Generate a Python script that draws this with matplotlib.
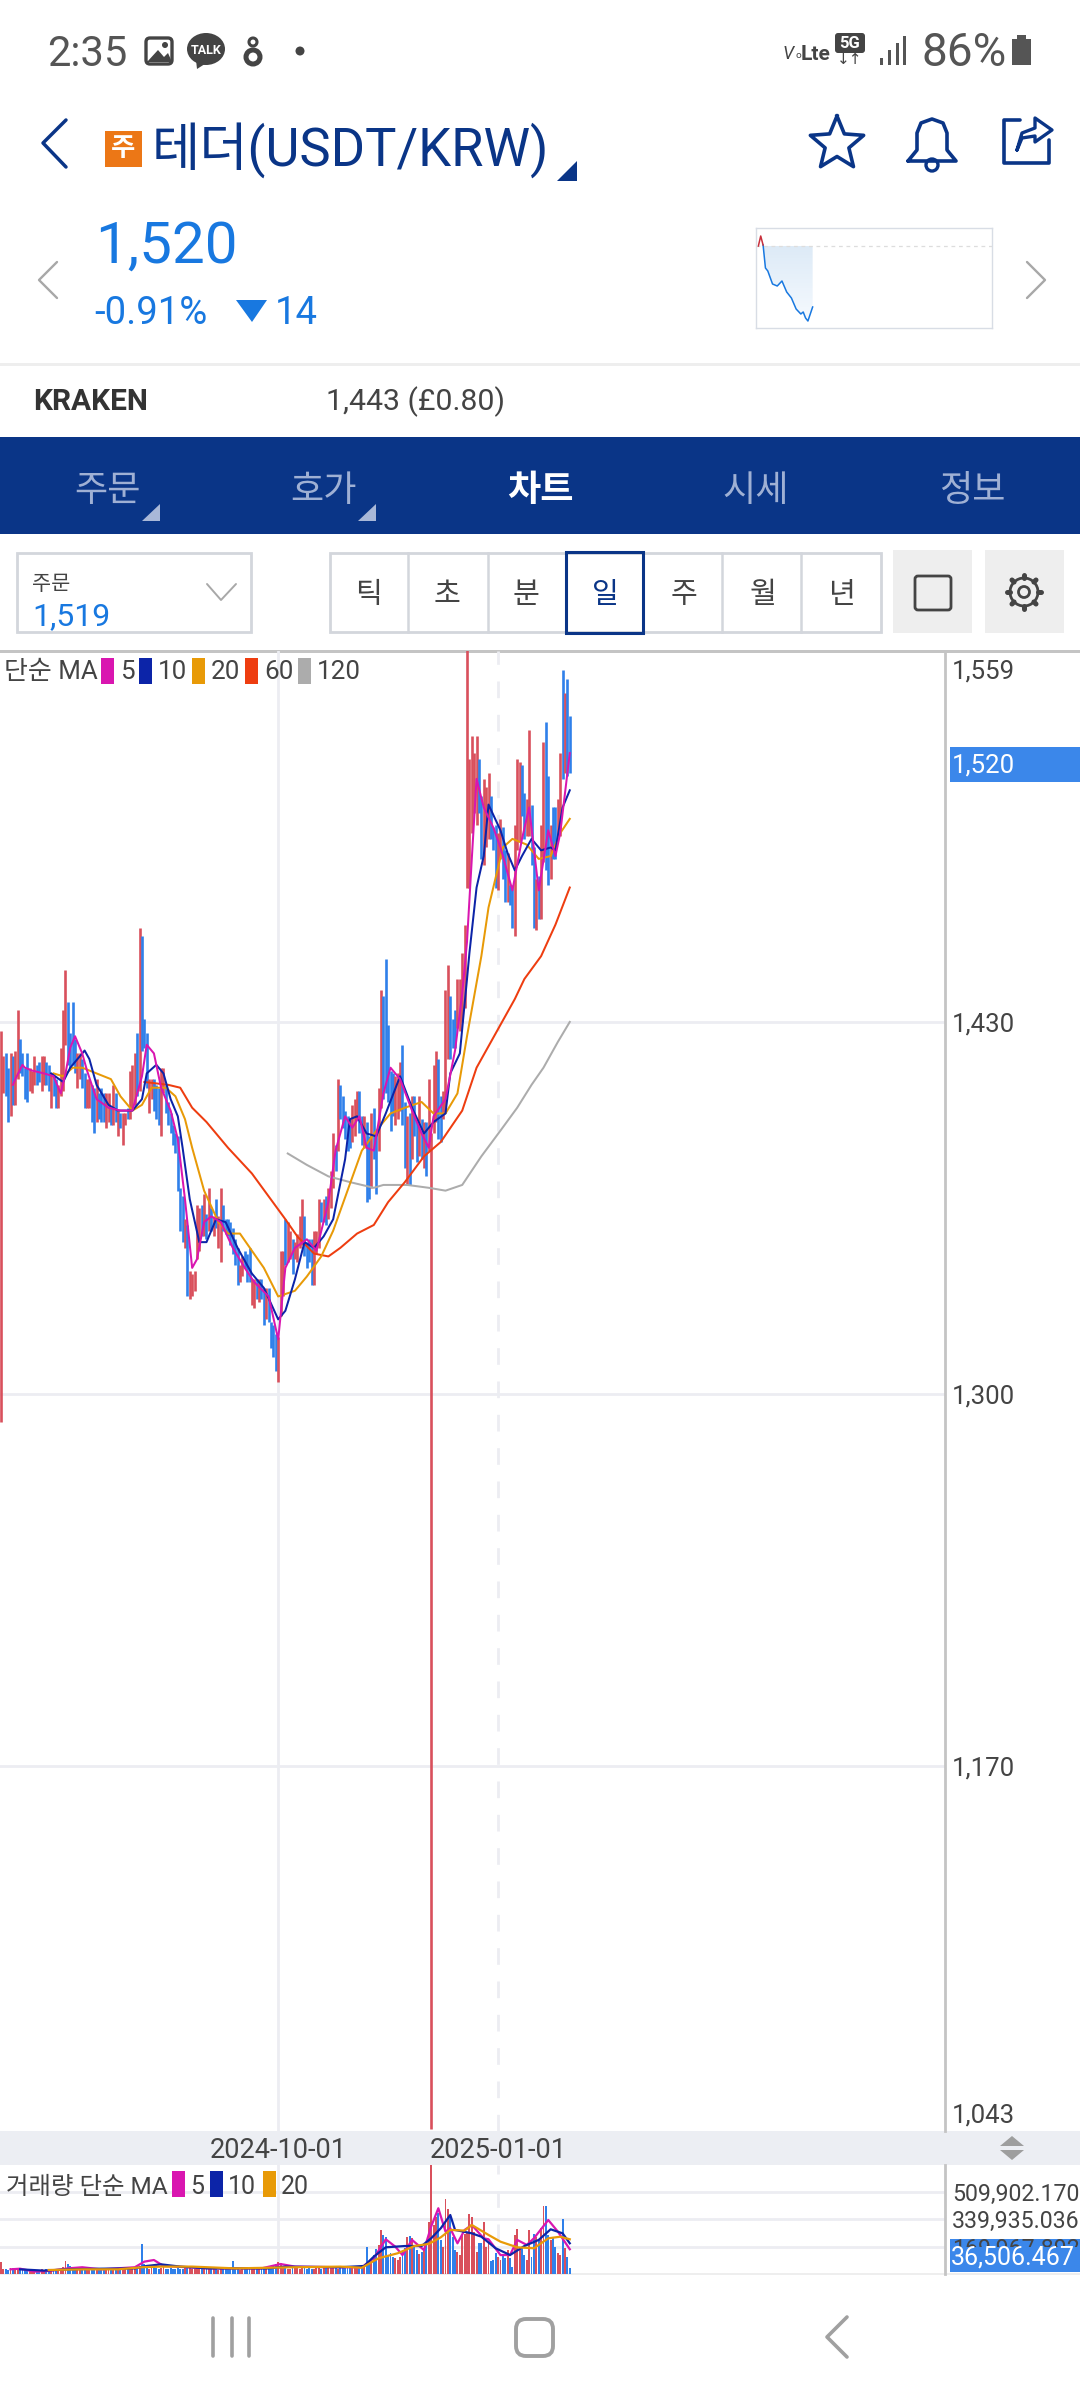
# -*- coding: utf-8 -*-
import numpy as np
import matplotlib
matplotlib.use('Agg')
import matplotlib.pyplot as plt
from matplotlib.patches import Rectangle, Polygon, Circle, Ellipse, FancyBboxPatch

plt.rcParams['font.family'] = ['Roboto', 'Noto Sans CJK KR', 'DejaVu Sans']

# daily bars
highs = [1427, 1418, 1419, 1414, 1419, 1418, 1420, 1434, 1424, 1419, 1414, 1419, 1414, 1413, 1418, 1415, 1416, 1418, 1418, 1416,
         1415, 1412, 1411, 1410, 1408, 1421, 1434, 1448, 1437, 1426, 1437, 1424, 1419, 1419, 1417, 1412, 1410, 1410, 1408, 1407,
         1410, 1405, 1407, 1405, 1405, 1405, 1400, 1408, 1405, 1399, 1398, 1398, 1398, 1400, 1413, 1415, 1419, 1426, 1463, 1460,
         1431, 1426, 1410, 1410, 1410, 1408, 1407, 1414, 1414, 1408, 1402, 1398, 1394, 1391,
         1390, 1372, 1369, 1361, 1359, 1343, 1342, 1343, 1366, 1365, 1366, 1370, 1363, 1372, 1365, 1362, 1368, 1362, 1372, 1366,
         1361, 1361, 1360, 1358, 1354, 1351, 1345, 1348, 1350, 1349, 1351, 1340, 1340, 1340, 1340, 1340, 1337, 1337, 1337, 1325,
         1324, 1321, 1320, 1350, 1350, 1361, 1360, 1357, 1354, 1353, 1356, 1362, 1368, 1362, 1353, 1354, 1354, 1357, 1357, 1368,
         1367, 1368, 1369, 1372, 1378, 1391, 1387, 1410, 1408, 1404, 1399, 1397,
         1396, 1401, 1403, 1406, 1406, 1397, 1397, 1395, 1390, 1398, 1400, 1392, 1407, 1441, 1439, 1452, 1429, 1413, 1412, 1411,
         1412, 1416, 1422, 1402, 1397, 1398, 1404, 1404, 1396, 1404, 1396, 1395, 1395, 1410, 1391, 1415, 1420, 1417, 1404, 1406,
         1441, 1450, 1439, 1431, 1434, 1445, 1445, 1454, 1464, 1563,
         1522, 1530, 1524, 1530, 1522, 1509, 1515, 1512, 1517, 1509, 1498, 1499, 1496, 1501, 1498, 1490, 1489, 1478, 1478, 1499,
         1522, 1521, 1520, 1510, 1508, 1532, 1506, 1491, 1480, 1481, 1499, 1528, 1535, 1516, 1499, 1505, 1505, 1508, 1524, 1553,
         1545, 1550, 1537]
lows = [1290, 1405, 1404, 1395, 1397, 1401, 1401, 1410, 1412, 1411, 1403, 1402, 1406, 1405, 1408, 1408, 1409, 1406, 1408, 1408,
        1406, 1400, 1404, 1400, 1400, 1404, 1406, 1422, 1415, 1414, 1415, 1412, 1407, 1410, 1407, 1400, 1400, 1400, 1395, 1391,
        1395, 1396, 1395, 1395, 1393, 1395, 1394, 1394, 1395, 1390, 1393, 1387, 1394, 1396, 1396, 1400, 1401, 1404, 1406, 1420,
        1421, 1407, 1398, 1403, 1399, 1396, 1394, 1390, 1405, 1398, 1394, 1391, 1387, 1384,
        1371, 1357, 1353, 1351, 1334, 1333, 1334, 1336, 1347, 1350, 1355, 1355, 1354, 1357, 1357, 1355, 1358, 1351, 1346, 1357,
        1356, 1355, 1352, 1349, 1345, 1338, 1339, 1341, 1344, 1339, 1339, 1331, 1330, 1333, 1332, 1333, 1324, 1326, 1325, 1316,
        1313, 1308, 1304, 1327, 1334, 1345, 1346, 1347, 1342, 1347, 1346, 1351, 1352, 1348, 1344, 1346, 1338, 1338, 1349, 1351,
        1360, 1360, 1359, 1361, 1365, 1372, 1378, 1385, 1396, 1393, 1389, 1385,
        1386, 1388, 1390, 1396, 1391, 1387, 1386, 1367, 1368, 1372, 1382, 1370, 1385, 1400, 1403, 1405, 1402, 1392, 1397, 1394,
        1396, 1399, 1394, 1379, 1373, 1373, 1382, 1390, 1381, 1383, 1382, 1379, 1376, 1385, 1043, 1391, 1395, 1389, 1388, 1396,
        1398, 1417, 1417, 1421, 1421, 1428, 1427, 1430, 1435, 1477,
        1477, 1496, 1503, 1499, 1503, 1487, 1485, 1491, 1494, 1494, 1490, 1477, 1476, 1487, 1480, 1472, 1472, 1471, 1463, 1460,
        1490, 1493, 1502, 1494, 1495, 1495, 1485, 1463, 1462, 1466, 1466, 1486, 1483, 1478, 1480, 1487, 1487, 1495, 1495, 1515,
        1517, 1516, 1517]
# 1 = red bar, 0 = blue bar
ups = [1, 1, 0, 0, 1, 0, 1, 1, 0, 0, 0, 0, 1, 1, 1, 0, 0, 1, 1, 0,
       0, 1, 0, 0, 1, 1, 1, 1, 0, 0, 0, 0, 1, 1, 0, 0, 1, 1, 0, 0,
       1, 0, 0, 0, 1, 1, 0, 1, 0, 1, 0, 1, 1, 0, 1, 1, 1, 0, 1, 0,
       0, 0, 1, 1, 0, 0, 0, 1, 1, 0, 0, 0, 0, 0,
       0, 0, 0, 1, 0, 1, 1, 1, 1, 1, 0, 1, 0, 1, 0, 1, 0, 1, 1, 0,
       0, 0, 0, 0, 0, 0, 1, 1, 0, 0, 0, 1, 1, 0, 1, 0, 0, 1, 0, 0,
       0, 0, 1, 1, 1, 0, 1, 1, 0, 1, 1, 1, 1, 0, 0, 0, 0, 1, 1, 1,
       0, 1, 0, 1, 1, 1, 0, 1, 0, 0, 0, 0,
       0, 1, 1, 1, 0, 0, 1, 0, 0, 1, 0, 0, 1, 1, 0, 0, 0, 0, 0, 1,
       1, 1, 0, 0, 1, 0, 1, 0, 0, 1, 0, 1, 0, 1, 1, 1, 1, 0, 0, 1,
       1, 1, 0, 0, 0, 1, 1, 1, 1, 1,
       1, 1, 1, 1, 0, 0, 1, 1, 1, 0, 0, 0, 1, 1, 0, 0, 1, 0, 0, 1,
       1, 1, 0, 0, 1, 1, 0, 0, 1, 0, 1, 1, 0, 0, 1, 0, 0, 1, 1, 0,
       1, 0, 0]

# moving averages, sampled along each line: bar number and price
ma5_x = [5, 6, 9, 10, 13, 18, 22, 25, 27, 29, 31, 34, 36, 40, 45, 50, 55, 59, 61, 64, 67, 71, 74, 77, 80, 82, 85, 88, 92, 97,
         102, 106, 112, 116, 119, 123, 128, 132, 137, 140, 144, 147, 150, 153, 156, 160, 163, 167, 172, 176, 179, 181, 186, 190, 193,
         195, 197, 199, 202, 206, 209, 214, 218, 221, 225, 229, 232, 234, 238]
ma5_y = [1408, 1410, 1415, 1414, 1413, 1412, 1411, 1405, 1412, 1421, 1425, 1419, 1413, 1403, 1400, 1399, 1399, 1411, 1422, 1419,
         1407, 1399, 1389, 1368, 1344, 1347, 1360, 1362, 1360, 1351, 1344, 1339, 1334, 1319, 1344, 1351, 1354, 1350, 1367, 1385,
         1397, 1393, 1397, 1386, 1385, 1405, 1414, 1410, 1399, 1391, 1386, 1397, 1403, 1420, 1440, 1458, 1487, 1515, 1505, 1498,
         1491, 1476, 1494, 1505, 1476, 1497, 1488, 1496, 1524]
ma10_x = [21, 26, 29, 33, 35, 37, 40, 45, 49, 55, 59, 61, 65, 68, 71, 74, 76, 79, 83, 86, 90, 94, 99, 105, 110, 116, 119, 123,
          127, 131, 135, 139, 144, 146, 149, 153, 157, 161, 167, 172, 177, 181, 186, 188, 192, 195, 196, 199, 202, 204, 209, 212,
          215, 218, 222, 226, 230, 232, 235, 238]
ma10_y = [1412, 1409, 1414, 1418, 1420, 1417, 1408, 1401, 1399, 1399, 1403, 1412, 1415, 1412, 1403, 1397, 1386, 1368, 1353, 1353,
          1361, 1360, 1351, 1342, 1337, 1326, 1329, 1340, 1353, 1351, 1355, 1361, 1382, 1396, 1397, 1391, 1390, 1398, 1411, 1400,
          1391, 1395, 1398, 1412, 1419, 1445, 1454, 1477, 1488, 1506, 1497, 1489, 1483, 1488, 1494, 1490, 1491, 1490, 1505, 1511]
ma20_x = [22, 26, 30, 34, 40, 46, 50, 55, 59, 63, 69, 73, 77, 80, 85, 91, 95, 100, 110, 116, 123, 128, 134, 139, 145, 151, 158,
          163, 169, 176, 181, 186, 191, 195, 201, 204, 206, 210, 214, 220, 225, 230, 234, 238]
ma20_y = [1412, 1411, 1414, 1414, 1412, 1410, 1404, 1399, 1401, 1407, 1407, 1404, 1396, 1386, 1371, 1360, 1356, 1356, 1344, 1334,
          1336, 1341, 1348, 1357, 1371, 1385, 1393, 1398, 1400, 1402, 1398, 1398, 1405, 1425, 1453, 1470, 1477, 1491, 1494, 1492,
          1487, 1488, 1496, 1501]
ma60_x = [60, 70, 75, 80, 86, 95, 105, 112, 119, 124, 131, 137, 142, 149, 156, 162, 169, 177, 184, 193, 199, 205, 215, 219, 226,
          232, 238]
ma60_y = [1409, 1408, 1407, 1400, 1395, 1386, 1377, 1369, 1361, 1355, 1349, 1348, 1351, 1356, 1359, 1367, 1374, 1383, 1388, 1399,
          1414, 1423, 1438, 1445, 1453, 1464, 1477]
ma120_x = [120, 128, 137, 146, 156, 160, 170, 179, 186, 193, 197, 201, 209, 216, 222, 227, 233, 238]
ma120_y = [1384, 1380, 1376, 1374, 1372, 1373, 1373, 1372, 1371, 1373, 1378, 1383, 1392, 1400, 1408, 1414, 1423, 1430]

# volume in thousands
volumes = [77, 30, 34, 22, 36, 40, 33, 28, 35, 24, 30, 26, 20, 28, 34, 22, 25, 30, 24, 28,
           26, 22, 30, 28, 24, 32, 45, 80, 62, 50, 40, 36, 30, 34, 28, 26, 36, 30, 24, 28,
           34, 30, 26, 32, 36, 28, 24, 34, 30, 28, 32, 36, 30, 28, 40, 44, 36, 46, 48, 187,
           60, 40, 34, 38, 44, 36, 30, 38, 42, 34, 28, 36, 30, 34, 40, 32, 28, 36, 42, 38,
           30, 34, 36, 28, 32, 38, 30, 28, 34, 36, 30, 26, 32, 38, 34, 28, 30, 80, 34, 30,
           26, 34, 38, 30, 28, 36, 32, 30, 34, 28, 36, 40, 34, 30, 48, 60, 77, 70, 52, 38,
           34, 30, 36, 44, 38, 32, 36, 40, 34, 38, 30, 34, 42, 36, 32, 38, 44, 40, 36, 42,
           38, 34, 40, 44, 42, 38,
           42, 35, 42, 35, 46, 42, 50, 166, 77, 87, 118, 154, 181, 274, 243, 232, 118, 129, 108, 98,
           87, 108, 139, 160, 228, 237, 222, 181, 149, 122, 139, 149, 191, 326, 700, 305, 357, 378, 212, 166,
           465, 403, 367, 232, 149, 139, 118, 243, 249, 257, 374, 353, 264, 139, 191, 195, 326, 170, 201, 83,
           87, 133, 108, 87, 118, 98, 149, 98, 46, 243, 280, 160, 160, 118, 87, 274, 108, 249, 232, 212,
           285, 423, 423, 243, 212, 222, 170, 129, 118, 340, 160, 104, 37]
vol5_x = [4, 8, 14, 20, 28, 34, 42, 56, 60, 64, 68, 78, 87, 98, 109, 117, 123, 142, 151, 156, 161, 165, 168, 172, 177, 180, 183,
          186, 188, 191, 194, 197, 202, 204, 209, 213, 216, 220, 223, 229, 233, 238]
vol5_y = [29, 33, 15, 19, 35, 42, 29, 42, 77, 87, 50, 42, 35, 35, 35, 62, 46, 42, 42, 98, 216, 170, 118, 212, 149, 295, 409,
          264, 284, 191, 274, 305, 222, 216, 118, 118, 212, 181, 222, 336, 264, 154]
vol10_x = [8, 18, 28, 42, 56, 61, 67, 75, 87, 112, 119, 142, 152, 156, 161, 169, 176, 180, 184, 188, 190, 197, 201, 207, 213,
           219, 225, 230, 235, 238]
vol10_y = [29, 21, 29, 33, 35, 50, 60, 46, 35, 35, 46, 42, 50, 108, 166, 174, 174, 222, 284, 367, 274, 253, 232, 160, 118,
           174, 212, 278, 253, 191]
vol20_x = [20, 35, 49, 59, 67, 80, 98, 112, 123, 142, 151, 158, 166, 173, 179, 184, 188, 194, 197, 204, 209, 216, 223, 229, 234, 238]
vol20_y = [25, 29, 29, 42, 46, 46, 35, 39, 42, 46, 39, 98, 129, 174, 187, 228, 274, 270, 305, 243, 201, 166, 160, 222, 232, 216]

grid_prices = [1430, 1300, 1170]
vol_ticks = [169967.892, 339935.036, 509902.170]
date_bars = [116, 208]
date_labels = ['2024-10-01', '2025-01-01']

# little sparkline at the top right, in percent of its box
mini_x = [1, 2, 3, 4, 5, 7, 9, 11, 13, 15, 17, 19, 20, 21, 22, 24]
mini_y = [82, 92, 83, 60, 57, 44, 42, 47, 36, 30, 19, 14, 16, 10, 7, 21]

RED = '#d9505c'
BLUE = '#2f80ea'
NAVY = '#0a3587'
GRID = '#ecedf2'
LINE = '#c4c4c4'
DARK = '#444444'
BRIGHT = '#1878e0'
MAG, MA10C, ORG, ORED, GREY = '#d916b0', '#0c24a8', '#e89a07', '#ee3d10', '#acacac'
W, H = 1080, 2400
BAR_W = 2.39


def px_axes(fig, z):
    ax = fig.add_axes([0, 0, 1, 1], zorder=z)
    ax.set_xlim(0, W)
    ax.set_ylim(H, 0)
    ax.axis('off')
    ax.patch.set_alpha(0)
    return ax


def box_axes(fig, x0, y0, x1, y1, z):
    return fig.add_axes([x0 / W, 1 - y1 / H, (x1 - x0) / W, (y1 - y0) / H], zorder=z)


def txt(ax, x, y, s, size, color=DARK, ha='left', **kw):
    ax.text(x, y, s, fontsize=size, color=color, ha=ha, va='center', **kw)


def rect(ax, x0, y0, x1, y1, **kw):
    ax.add_patch(Rectangle((x0, y0), x1 - x0, y1 - y0, **kw))


def stroke(ax, xs, ys, color, lw, **kw):
    ax.plot(xs, ys, color=color, lw=lw, solid_capstyle='round', solid_joinstyle='round', **kw)


fig = plt.figure(figsize=(10.8, 24), dpi=100, facecolor='white')
bg = px_axes(fig, 0)
ui = px_axes(fig, 10)

# status bar
txt(ui, 47, 54, '2:35', 30, '#555555')
ui.add_patch(FancyBboxPatch((146, 38), 26, 26, boxstyle='round,pad=0,rounding_size=4', fc='white', ec='#444444', lw=2.4))
ui.add_patch(Polygon([[147, 62], [158, 50], [164, 57], [168, 53], [172, 62]], fc='#444444'))
ui.add_patch(Circle((165, 45), 3, fc='#444444'))
ui.add_patch(Ellipse((206, 49), 38, 32, fc='#444444'))
ui.add_patch(Polygon([[196, 60], [197, 69], [208, 62]], fc='#444444'))
txt(ui, 206, 50, 'TALK', 9, 'white', ha='center', fontweight='bold')
ui.add_patch(Circle((253, 42), 4, fc='none', ec='#444444', lw=2.2))
ui.add_patch(Circle((253, 57), 7, fc='none', ec='#444444', lw=3.6))
ui.add_patch(Circle((300, 51), 4.5, fc='#444444'))
txt(ui, 783, 54, 'V', 13, '#444444', style='italic')
txt(ui, 795, 54, 'ₒ', 11, '#444444')
txt(ui, 801, 54, 'Lte', 15, '#444444', fontweight='bold')
ui.add_patch(FancyBboxPatch((835, 33), 30, 20, boxstyle='round,pad=0,rounding_size=3', fc='#444444', ec='none'))
txt(ui, 850, 43, '5G', 12, 'white', ha='center', fontweight='bold')
txt(ui, 850, 60, '↓↑', 11, '#444444', ha='center', family=['DejaVu Sans'])
for bx, by in zip([880, 888, 896, 903], [58, 50, 43, 36]):
    rect(ui, bx, by, bx + 3, 65, fc='#555555')
txt(ui, 921, 53, '86%', 33, '#555555')
rect(ui, 1012, 39, 1031, 65, fc='#555555')
rect(ui, 1017, 35, 1026, 39, fc='#555555')

# header
stroke(ui, [66, 43, 66], [120, 143, 167], NAVY, 2.5)
rect(ui, 105, 131, 142, 167, fc='#ec7716')
txt(ui, 123.5, 149, '주', 19, 'white', ha='center', fontweight='bold')
txt(ui, 152, 150, '테더(USDT/KRW)', 37.8, NAVY)
ui.add_patch(Polygon([[577, 161], [577, 181], [557, 181]], fc=NAVY))
star_a = np.pi / 2 + np.arange(11) * np.pi / 5
star_r = np.where(np.arange(11) % 2 == 0, 28, 12.5)
ui.plot(837 + star_r * np.cos(star_a), 144 - star_r * np.sin(star_a), color=NAVY, lw=2.6, solid_joinstyle='round')
stroke(ui, [908, 917, 917, 921, 932, 943, 947, 947, 956, 908], [161, 150, 133, 123, 119, 123, 133, 150, 161, 161], NAVY, 2.6)
ui.add_patch(Circle((932, 165), 6, fc='none', ec=NAVY, lw=2.4))
stroke(ui, [1020, 1004, 1004, 1049, 1049], [120, 120, 163, 163, 140], NAVY, 2.6)
stroke(ui, [1017, 1022, 1035, 1035, 1052, 1035, 1035, 1022, 1017], [150, 133, 128, 118, 130, 142, 136, 138, 150], NAVY, 2.4)

# price block
txt(ui, 95, 247, '1,520', 42, BRIGHT)
txt(ui, 94, 313, '-0.91%', 27.5, BRIGHT)
ui.add_patch(Polygon([[236, 300], [267, 300], [252, 322]], fc=BRIGHT))
txt(ui, 275, 313, '14', 27.5, BRIGHT)
stroke(ui, [57, 39, 57], [262, 280, 298], '#a8a8a8', 1.7)
stroke(ui, [1027, 1045, 1027], [262, 280, 298], '#a8a8a8', 1.7)

mini = box_axes(fig, 756, 228, 992, 328, 5)
mini.set_xticks([])
mini.set_yticks([])
for sp in mini.spines.values():
    sp.set_color('#d8dde5')
    sp.set_linewidth(1)
grad = mini.imshow(np.linspace(0.0, 0.13, 64).reshape(-1, 1), extent=[0, 24, 0, 82], origin='lower',
                   cmap='Blues', vmin=0, vmax=1, aspect='auto')
fill = Polygon(list(zip(mini_x[2:], mini_y[2:])) + [(24, 82), (3, 82)], transform=mini.transData, fc='none', ec='none')
mini.add_patch(fill)
grad.set_clip_path(fill)
mini.set_xlim(0, 100)
mini.set_ylim(0, 100)
mini.axhline(82, color='#dddddd', lw=0.9, ls=(0, (3, 3)))
mini.plot(mini_x[2:], mini_y[2:], color=BRIGHT, lw=1.1)
mini.plot(mini_x[:3], mini_y[:3], color='#c8303c', lw=1.1)

rect(bg, 0, 363, W, 366, fc='#eeeeee')
txt(ui, 33, 402, 'KRAKEN', 21.5, '#333333', fontweight='bold')
txt(ui, 326, 402, '1,443 (£0.80)', 21.8, '#444444')

# tabs
rect(bg, 0, 437, W, 534, fc=NAVY)
tab_labels = ['주문', '호가', '차트', '시세', '정보']
for tx, lab in zip([107, 323, 540, 756, 972], tab_labels):
    on = lab == '차트'
    txt(ui, tx, 491, lab, 26, 'white' if on else '#9fb0d4', ha='center', fontweight='bold' if on else 'normal')
for cx in [160, 376]:
    ui.add_patch(Polygon([[cx, 504], [cx, 521], [cx - 18, 521]], fc='#a9b8d8'))

# order box and interval buttons
rect(bg, 17, 553, 251, 632, fc='white', ec='#d3d6dc', lw=2)
txt(ui, 32, 584, '주문', 15, '#444444')
txt(ui, 32, 617, '1,519', 23, BRIGHT)
stroke(ui, [207, 221, 236], [584, 600, 584], '#a8a8a8', 1.4)
rect(bg, 330, 553, 881, 632, fc='white', ec='#d3d6dc', lw=2)
for dx in [408, 488, 722, 801]:
    bg.plot([dx, dx], [553, 632], color='#d3d6dc', lw=1.8)
rect(ui, 566, 552, 643, 633, fc='none', ec=NAVY, lw=2.2)
for tx, lab in zip([368, 447, 526, 605, 684, 763, 842], ['틱', '초', '분', '일', '주', '월', '년']):
    txt(ui, tx, 595, lab, 21, NAVY if lab == '일' else '#444444', ha='center')
rect(bg, 893, 550, 972, 633, fc='#eeeeee')
rect(bg, 985, 550, 1064, 633, fc='#eeeeee')
ui.add_patch(FancyBboxPatch((915, 576), 36, 34, boxstyle='round,pad=0,rounding_size=3', fc='none', ec='#444444', lw=2))
ui.add_patch(Circle((1024, 592), 14, fc='none', ec='#444444', lw=2))
ui.add_patch(Circle((1024, 592), 5.5, fc='none', ec='#444444', lw=2))
for a in np.arange(8) * np.pi / 4:
    stroke(ui, [1024 + 14 * np.cos(a), 1024 + 17 * np.cos(a)], [592 + 14 * np.sin(a), 592 + 17 * np.sin(a)], '#444444', 3.6)

# main price chart
rect(bg, 0, 650, W, 653, fc=LINE)
ax = box_axes(fig, 0, 651, 945, 2131, 3)
ax.patch.set_alpha(0)
ax.set_xlim(-0.4, 945 / BAR_W - 0.4)
ax.set_ylim(1042.2, 1559.7)
ax.set_yticks(grid_prices)
ax.yaxis.tick_right()
ax.set_yticklabels(['1,430', '1,300', '1,170'], fontsize=18.5, color=DARK)
ax.tick_params(axis='y', length=0, pad=5)
# top and bottom labels are pushed inside the panel
ax.annotate('1,559', xy=(1, 1559), xycoords=('axes fraction', 'data'), xytext=(7, -18), textcoords='offset pixels',
            fontsize=18.5, color=DARK, va='center', annotation_clip=False)
ax.annotate('1,043', xy=(1, 1043), xycoords=('axes fraction', 'data'), xytext=(7, 13), textcoords='offset pixels',
            fontsize=18.5, color=DARK, va='center', annotation_clip=False)
ax.set_xticks(date_bars)
ax.set_xticklabels(date_labels, fontsize=19.5, color=DARK)
ax.tick_params(axis='x', length=0, pad=4)
for sp in ['top', 'left', 'bottom']:
    ax.spines[sp].set_visible(False)
ax.spines['right'].set_color(LINE)
ax.spines['right'].set_linewidth(2)
for p in grid_prices:
    ax.axhline(p, color=GRID, lw=2, zorder=1)
ax.axvline(date_bars[0], color=GRID, lw=2, zorder=1)
ax.axvline(date_bars[1], color=GRID, lw=2, ls=(0, (6, 6)), zorder=1)

n = len(highs)
bar_x = np.arange(n)
bar_colors = [RED if u else BLUE for u in ups]
ax.vlines(bar_x, lows, highs, colors=bar_colors, lw=1.9, zorder=3)
for xs, ys, c in [(ma120_x, ma120_y, GREY), (ma60_x, ma60_y, ORED), (ma20_x, ma20_y, ORG),
                  (ma10_x, ma10_y, MA10C), (ma5_x, ma5_y, MAG)]:
    ax.plot(xs, ys, color=c, lw=1.45, zorder=4, solid_joinstyle='round')

# the current price tag sits over the axis labels
rect(ui, 950, 747, W, 782, fc='#3b87ea')
txt(ui, 952, 765, '1,520', 18.5, 'white')

# strip with dates
rect(bg, 0, 2131, W, 2165, fc='#eceef3')
ui.add_patch(Polygon([[1012, 2136], [1000, 2146], [1024, 2146]], fc='#9e9e9e'))
ui.add_patch(Polygon([[1012, 2160], [1000, 2150], [1024, 2150]], fc='#9e9e9e'))

# volume panel
rect(bg, 950, 2239, W, 2272, fc='#3b87ea')
vax = box_axes(fig, 0, 2165, 945, 2274, 3)
vax.patch.set_alpha(0)
vax.set_xlim(-0.4, 945 / BAR_W - 0.4)
vax.set_ylim(0, 678000)
vax.set_xticks([])
vax.set_yticks(vol_ticks)
vax.yaxis.tick_right()
vax.set_yticklabels(['169,967.892', '339,935.036', '509,902.170'], fontsize=16.7, color=DARK)
vax.tick_params(axis='y', length=0, pad=5)
for sp in ['top', 'left', 'bottom']:
    vax.spines[sp].set_visible(False)
vax.spines['right'].set_color(LINE)
vax.spines['right'].set_linewidth(2)
for v in vol_ticks:
    vax.axhline(v, color=GRID, lw=2, zorder=1)
vax.axvline(date_bars[0], color=GRID, lw=2, zorder=1)
vax.axvline(date_bars[1], color=GRID, lw=2, ls=(0, (6, 6)), zorder=1)
vax.bar(bar_x, np.array(volumes) * 1000, width=0.8, color=bar_colors, zorder=3)
for xs, ys, c in [(vol5_x, vol5_y, MAG), (vol10_x, vol10_y, MA10C), (vol20_x, vol20_y, ORG)]:
    vax.plot(xs, np.array(ys) * 1000, color=c, lw=1.6, zorder=4, solid_joinstyle='round')
rect(bg, 0, 2273, W, 2275, fc='#eeeeee')
# only the upper half of the hidden label shows above the tag
rect(ui, 950, 2247, W, 2272, fc='#3b87ea')
txt(ui, 951, 2258, '36,506.467', 18, 'white')

# legends
txt(ui, 4, 672, '단순 MA', 18.7, DARK)
for x0, c, lab in zip([101, 139, 192, 245, 298], [MAG, MA10C, ORG, ORED, GREY], ['5', '10', '20', '60', '120']):
    rect(ui, x0, 658, x0 + 13, 684, fc=c)
    txt(ui, x0 + 19, 672, lab, 18.7, DARK)
txt(ui, 6, 2187, '거래량 단순 MA', 17.6, DARK)
for x0, c, lab in zip([172, 210, 263], [MAG, MA10C, ORG], ['5', '10', '20']):
    rect(ui, x0, 2171, x0 + 13, 2197, fc=c)
    txt(ui, x0 + 18, 2187, lab, 18, DARK)

# android nav bar
for nx in [213, 232, 249]:
    stroke(ui, [nx, nx], [2318, 2356], '#a0a0a0', 2.6)
ui.add_patch(FancyBboxPatch((516, 2319), 37, 37, boxstyle='round,pad=0,rounding_size=10', fc='none', ec='#a0a0a0', lw=2.8))
stroke(ui, [847, 827, 847], [2317, 2337, 2357], '#a0a0a0', 2.6)

fig.savefig('out.png', dpi=100)
